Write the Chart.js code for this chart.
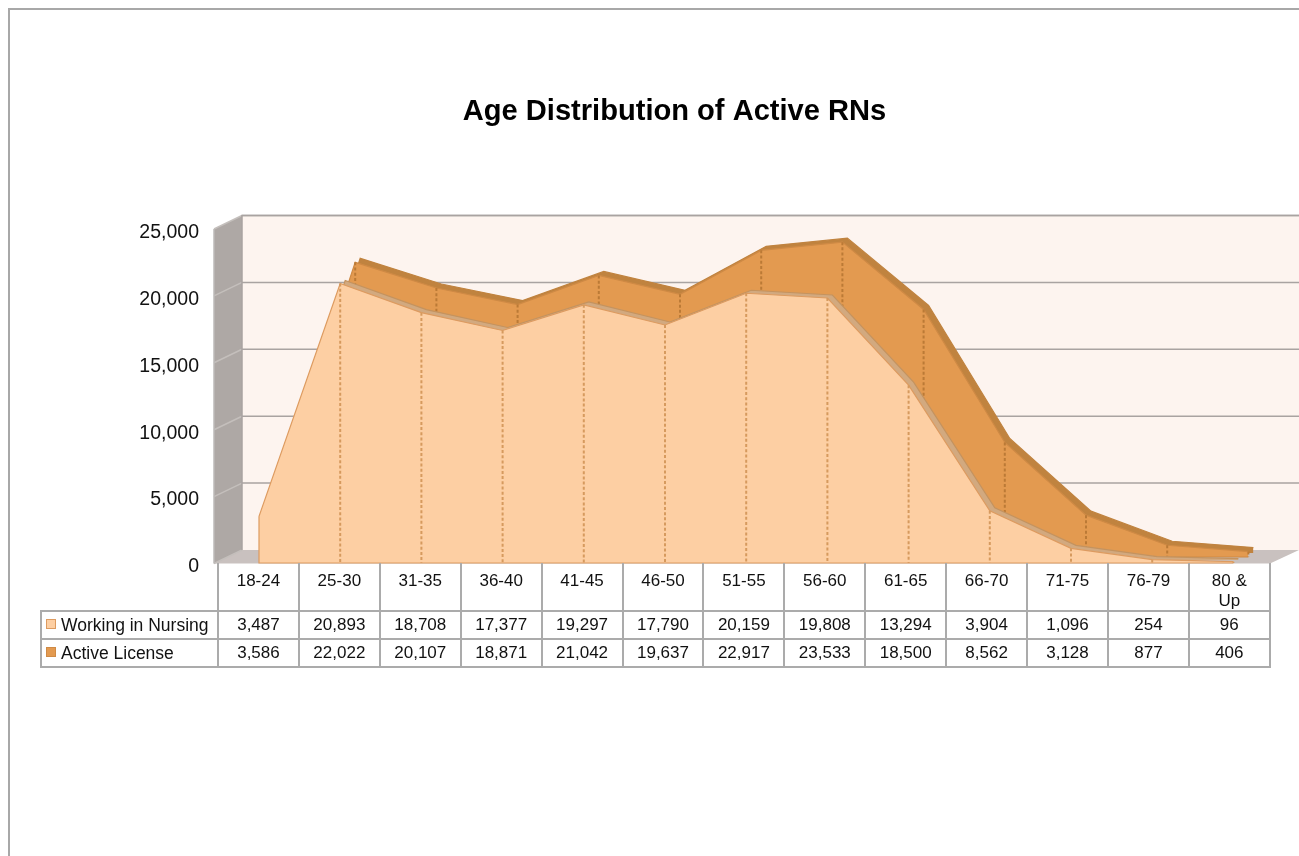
<!DOCTYPE html>
<html><head><meta charset="utf-8">
<script src="https://cdn.jsdelivr.net/npm/chart.js@4"></script>
<style>
html,body{margin:0;padding:0;background:#fff;overflow:hidden;width:1299px;height:856px}
#frame{position:absolute;left:8px;top:8px;width:1400px;height:1000px;border:2px solid #a8a8a8;box-sizing:border-box}
#c{position:absolute;left:0;top:0}
#tbl{position:absolute;left:40px;top:563px;border-collapse:collapse;table-layout:fixed;width:1229px;font:17px "Liberation Sans",Arial,sans-serif;color:#111}
#tbl td{border:2px solid #ababab;text-align:center;padding:0;overflow:hidden;white-space:nowrap}
#tbl tr.h td{height:48px;vertical-align:top;line-height:20px;padding:7px 14px 0;box-sizing:border-box;white-space:normal;border-top:none}
#tbl tr.h td span{position:relative;top:1px}
#tbl tr.h td.blank{border:none;border-right:2px solid #ababab;border-bottom:2px solid #ababab;padding:0}
#tbl tr.r td{height:26px;line-height:26px}
#tbl td.n{text-align:left;padding-left:4px;font-size:17.5px}
.sw{display:inline-block;width:8px;height:8px;margin-right:5px;vertical-align:2px;border:1px solid}
</style></head><body>
<div id="frame"></div>
<canvas id="c" width="1299" height="856"></canvas>
<table id="tbl"></table>
<script>
const categories=["18-24","25-30","31-35","36-40","41-45","46-50","51-55","56-60","61-65","66-70","71-75","76-79","80 & Up"];
const workingInNursing=[3487,20893,18708,17377,19297,17790,20159,19808,13294,3904,1096,254,96];
const activeLicense=[3586,22022,20107,18871,21042,19637,22917,23533,18500,8562,3128,877,406];
const yTickValues=[0,5000,10000,15000,20000,25000];
const fmt=v=>v.toLocaleString('en-US');

const L=214,R=1299,T=215,B=563,KX=81.2,KY=66.9/5000;
const planeX=x0=>({type:'linear',display:false,min:(L-x0)/KX,max:(R-x0)/KX});
const planeY=y0=>({type:'linear',display:false,min:(y0-B)/KY,max:(y0-T)/KY});
const asXY=a=>a.map((v,i)=>({x:i,y:v}));

const walls={id:'walls',beforeDatasetsDraw(ch){
  const c=ch.ctx,w=ch.scales.yWall,DY=13.5,bx=L+28;
  const y=v=>w.getPixelForValue(v);
  c.save();
  c.fillStyle='#fdf4ef';c.fillRect(bx,y(25000),R-bx,y(0)-y(25000));
  c.fillStyle='#aea8a5';c.beginPath();c.moveTo(L,y(25000)+DY);c.lineTo(bx,y(25000));c.lineTo(bx,y(0));c.lineTo(L,y(0)+DY);c.closePath();c.fill();
  c.fillStyle='#c9c1bf';c.beginPath();c.moveTo(L,y(0)+DY);c.lineTo(bx,y(0));c.lineTo(R,y(0));c.lineTo(1270,y(0)+DY);c.closePath();c.fill();
  c.lineWidth=1.5;
  yTickValues.forEach(v=>{
    if(v>0){c.strokeStyle='#a9a3a1';c.beginPath();c.moveTo(bx,y(v));c.lineTo(R,y(v));c.stroke();}
    c.strokeStyle='#c4bfbc';c.beginPath();c.moveTo(L,y(v)+DY);c.lineTo(bx,y(v));c.stroke();
  });
  c.strokeStyle='#a9a3a1';c.beginPath();c.moveTo(bx,y(0));c.lineTo(bx,y(25000));c.lineTo(R,y(25000));c.stroke();
  c.strokeStyle='#bdbab8';c.beginPath();c.moveTo(L,y(0)+DY);c.lineTo(L,y(25000)+DY);c.stroke();
  c.restore();
}};
const drops={id:'drops',afterDatasetDraw(ch,a){
  const ds=ch.data.datasets[a.index];if(!ds.dropColor)return;
  const m=ch.getDatasetMeta(a.index),c=ch.ctx,base=ch.scales[ds.yAxisID].getPixelForValue(0);
  c.save();c.strokeStyle=ds.dropColor;c.lineWidth=2;
  m.data.forEach((p,i)=>{if(i===0)return;c.setLineDash([3,2.2]);c.beginPath();c.moveTo(p.x,p.y);c.lineTo(p.x,base);c.stroke();});
  c.setLineDash([]);c.strokeStyle=ds.borderColor;c.lineWidth=1.2;
  const first=m.data[0],last=m.data[m.data.length-1];
  c.beginPath();c.moveTo(first.x,first.y);c.lineTo(first.x,base);c.lineTo(last.x,base);c.stroke();
  c.restore();
}};
const mk=(label,data,xa,ya,fill,line,order,drop)=>({label,data:asXY(data),xAxisID:xa,yAxisID:ya,fill:'origin',backgroundColor:fill,borderColor:line,borderWidth:1.2,pointRadius:0,tension:0,clip:false,order,dropColor:drop});

new Chart(document.getElementById('c'),{
  type:'line',
  data:{labels:categories,datasets:[
    mk('Active License (top)',activeLicense,'xBT','yBT','#c0833f','#c0833f',4),
    mk('Active License',activeLicense,'xB','yB','#e39a50','#cf8a45',3,'#bb7a36'),
    mk('Working in Nursing (top)',workingInNursing,'xFT','yFT','#d2a97f','#c4935f',2),
    mk('Working in Nursing',workingInNursing,'x','y','#fdcfa3','#dd9b60',1,'#d69a5e')
  ]},
  options:{
    responsive:false,animation:false,events:[],
    layout:{padding:{left:50,right:0,top:0,bottom:856-B}},
    plugins:{legend:{display:false},tooltip:{enabled:false},
      title:{display:true,text:'Age Distribution of Active RNs',color:'#000',
        font:{family:'"Liberation Sans",Arial,sans-serif',size:29.1,weight:'bold',lineHeight:1.2},
        padding:{top:94.5,bottom:T-94.5-34.92}}},
    scales:{
      x:planeX(259),
      y:{type:'linear',position:'left',min:0,max:(B-T)/KY,display:true,
        border:{display:false},grid:{display:false},
        afterFit:s=>{s.width=L-50;},
        afterBuildTicks:s=>{s.ticks=yTickValues.map(value=>({value}));},
        ticks:{padding:7,labelOffset:4,color:'#111',font:{family:'"Liberation Sans",Arial,sans-serif',size:19.5},callback:v=>fmt(v)}},
      xFT:planeX(264),yFT:planeY(B-3),
      xB:planeX(274),yB:planeY(557),
      xBT:planeX(279),yBT:planeY(553),
      xWall:planeX(274),yWall:planeY(550)
    }
  },
  plugins:[walls,drops]
});

const colgroup='<colgroup><col style="width:177px">'+categories.map(()=>'<col style="width:80.92px">').join('')+'</colgroup>';
const row=(name,vals,f,b)=>'<tr class="r"><td class="n"><span class="sw" style="background:'+f+';border-color:'+b+'"></span>'+name+'</td>'+vals.map(v=>'<td>'+fmt(v)+'</td>').join('')+'</tr>';
document.getElementById('tbl').innerHTML=colgroup+'<tr class="h"><td class="blank"></td>'+categories.map(c=>'<td><span>'+c+'</span></td>').join('')+'</tr>'+
  row('Working in Nursing',workingInNursing,'#fdcfa3','#dd9b60')+row('Active License',activeLicense,'#e39a50','#cf8a45');
</script>
</body></html>
